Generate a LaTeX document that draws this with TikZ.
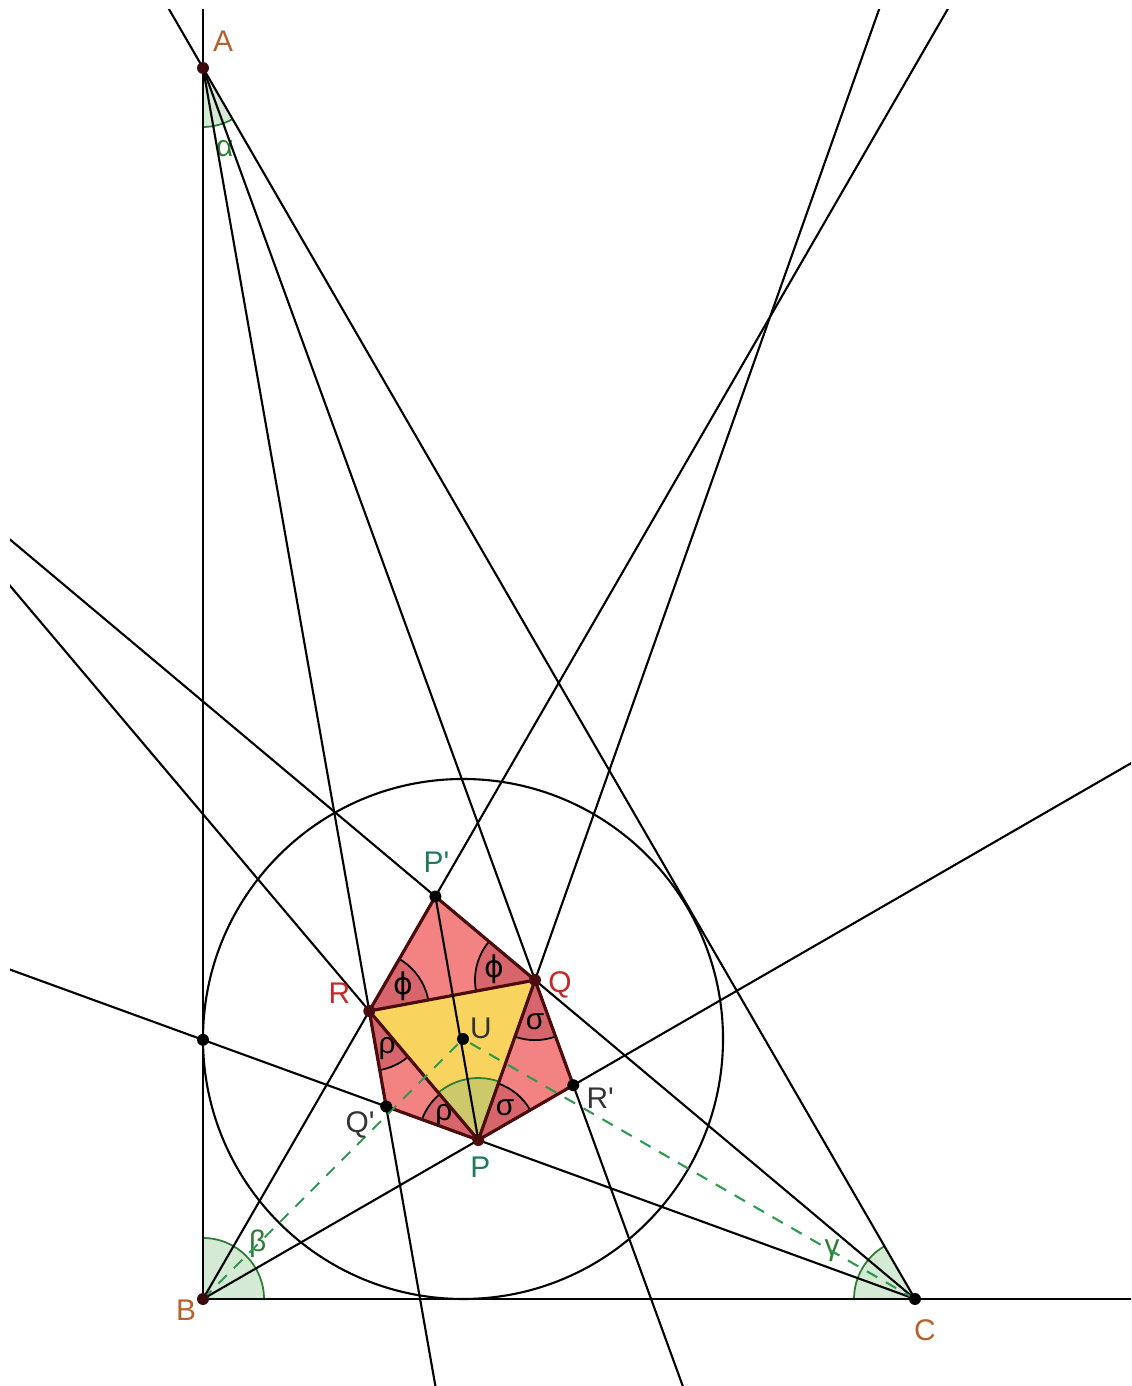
\documentclass[tikz,border=0pt]{standalone}
\usepackage{fontspec}
\setmainfont{Liberation Sans}
\newfontfamily\dejavu{DejaVu Sans}
\usetikzlibrary{calc, angles, quotes}
\definecolor{crosa}{HTML}{F38383}
\definecolor{csector}{HTML}{D6666B}
\definecolor{camarillo}{HTML}{F8D45E}
\definecolor{colivo}{HTML}{CDC86A}
\definecolor{cverde}{HTML}{2E7D32}
\definecolor{cverdeclaro}{HTML}{D5EAD5}
\definecolor{cdiscont}{HTML}{2E9A50}
\definecolor{cmarron}{HTML}{B5602D}
\definecolor{crojo}{HTML}{C62828}
\definecolor{cteal}{HTML}{1F7A5C}
\definecolor{cborde}{HTML}{4A0C0C}
\definecolor{cgris}{HTML}{333333}
\tikzset{
  recta/.style={line width=0.6pt, draw=black},
  lado/.style={line width=0.9pt, draw=cborde, line join=round},
  sector/.style={draw=black, line width=0.5pt, fill=csector, angle radius=0.6cm, angle eccentricity=0.7},
  vert/.style={draw=cverde, line width=0.5pt, fill=cverdeclaro, angle radius=0.61cm,
               pic text options={text=cverde}},
  punto/.style={circle, fill=#1, inner sep=0pt, minimum size=3.4pt},
  etiq/.style={text=#1, inner sep=0pt},
}
\begin{document}
\begin{tikzpicture}[font=\fontsize{8.5}{10}\selectfont]
\useasboundingbox (0,0) rectangle (11.31,13.86);
% triangulo de partida
\coordinate (A) at (2.03,13.18);
\coordinate (B) at (2.03,0.87);
\coordinate (C) at (9.15,0.87);
% trisectrices
\coordinate (A1) at ($(A)!1!10:(B)$);
\coordinate (A2) at ($(A)!1!20:(B)$);
\coordinate (B1) at ($(B)!1!30:(C)$);
\coordinate (B2) at ($(B)!1!60:(C)$);
\coordinate (C1) at ($(C)!1!-20:(B)$);
\coordinate (C2) at ($(C)!1!-40:(B)$);
% triangulo de Morley y puntos auxiliares
\coordinate (P) at (intersection of B--B1 and C--C1);
\coordinate (Q) at (intersection of A--A2 and C--C2);
\coordinate (R) at (intersection of A--A1 and B--B2);
\coordinate (Pp) at (intersection of B--B2 and C--C2);
\coordinate (Qp) at (intersection of A--A1 and C--C1);
\coordinate (Rp) at (intersection of A--A2 and B--B1);
\coordinate (U) at ($(B)+(2.6,2.6)$);
\coordinate (T) at (intersection of A--B and C--C1);

% rellenos
\fill[crosa] (Pp) -- (R) -- (Q) -- cycle;
\fill[crosa] (R) -- (Qp) -- (P) -- cycle;
\fill[crosa] (Q) -- (P) -- (Rp) -- cycle;
\fill[camarillo] (P) -- (Q) -- (R) -- cycle;

% angulos
\pic[draw=cverde, line width=0.5pt, fill=colivo, angle radius=0.62cm] {angle = Q--P--R};
\pic[sector, "{\dejavu ϕ}"] {angle = Q--R--Pp};
\pic[sector, "{\dejavu ϕ}"] {angle = Pp--Q--R};
\pic[sector, "σ"] {angle = P--Q--Rp};
\pic[sector, "σ"] {angle = Rp--P--Q};
\pic[sector, "ρ"] {angle = R--P--Qp};
\pic[sector, "ρ"] {angle = Qp--R--P};
\pic[vert, pic text=α, angle radius=0.59cm, angle eccentricity=1.42] {angle = B--A--C};
\pic[vert, pic text=β, angle eccentricity=1.27] {angle = C--B--A};
\pic[vert, pic text=γ, angle eccentricity=1.57] {angle = A--C--B};

% rectas
\begin{scope}
  \clip (0.10,0) rectangle (11.31,13.76);
  \draw[recta] (B) -- ($(B)!20cm!(A)$);
  \draw[recta] (B) -- ($(B)!20cm!(C)$);
  \draw[recta] (C) -- ($(C)!20cm!(A)$);
  \draw[recta] (A) -- ($(A)!20cm!(R)$);
  \draw[recta] (A) -- ($(A)!20cm!(Q)$);
  \draw[recta] (B) -- ($(B)!20cm!(P)$);
  \draw[recta] (B) -- ($(B)!20cm!(R)$);
  \draw[recta] (C) -- ($(C)!20cm!(P)$);
  \draw[recta] (C) -- ($(C)!20cm!(Q)$);
  \draw[recta] (P) -- ($(P)!20cm!(R)$);
  \draw[recta] (P) -- ($(P)!20cm!(Q)$);
\end{scope}
\draw[recta] (U) circle (2.6);

% lados
\draw[lado] (Pp) -- (Q) -- (Rp) -- (P) -- (Qp) -- (R) -- cycle;
\draw[lado] (P) -- (Q) -- (R) -- cycle;
\draw[recta] (Pp) -- (P);
\draw[cdiscont, line width=0.6pt, dash pattern=on 3.4pt off 2.8pt] (B) -- (U) (C) -- (U);

% puntos
\node[punto=cborde!80!black] (nA) at (A) {};
\node[punto=cborde!80!black] (nB) at (B) {};
\node[punto=black] (nC) at (C) {};
\node[punto=cborde] (nP) at (P) {};
\node[punto=cborde] (nQ) at (Q) {};
\node[punto=cborde] (nR) at (R) {};
\node[punto=black] (nPp) at (Pp) {};
\node[punto=black] (nQp) at (Qp) {};
\node[punto=black] (nRp) at (Rp) {};
\node[punto=black] (nU) at (U) {};
\node[punto=black] (nT) at (T) {};

% etiquetas
\node[etiq=cmarron] (lA) at ($(A)+(0.20,0.27)$) {A};
\node[etiq=cmarron] (lB) at ($(B)+(-0.17,-0.11)$) {B};
\node[etiq=cmarron] (lC) at ($(C)+(0.10,-0.31)$) {C};
\node[etiq=cteal] (lP) at ($(P)+(0.02,-0.27)$) {P};
\node[etiq=crojo] (lQ) at ($(Q)+(0.25,-0.05)$) {Q};
\node[etiq=crojo] (lR) at ($(R)+(-0.30,0.18)$) {R};
\node[etiq=cteal] (lPp) at ($(Pp)+(0.01,0.34)$) {P\textquotesingle};
\node[etiq=cgris] (lQp) at ($(Qp)+(-0.26,-0.18)$) {Q\textquotesingle};
\node[etiq=cgris] (lRp) at ($(Rp)+(0.27,-0.13)$) {R\textquotesingle};
\node[etiq=cgris] (lU) at ($(U)+(0.18,0.11)$) {U};
\end{tikzpicture}
\end{document}
